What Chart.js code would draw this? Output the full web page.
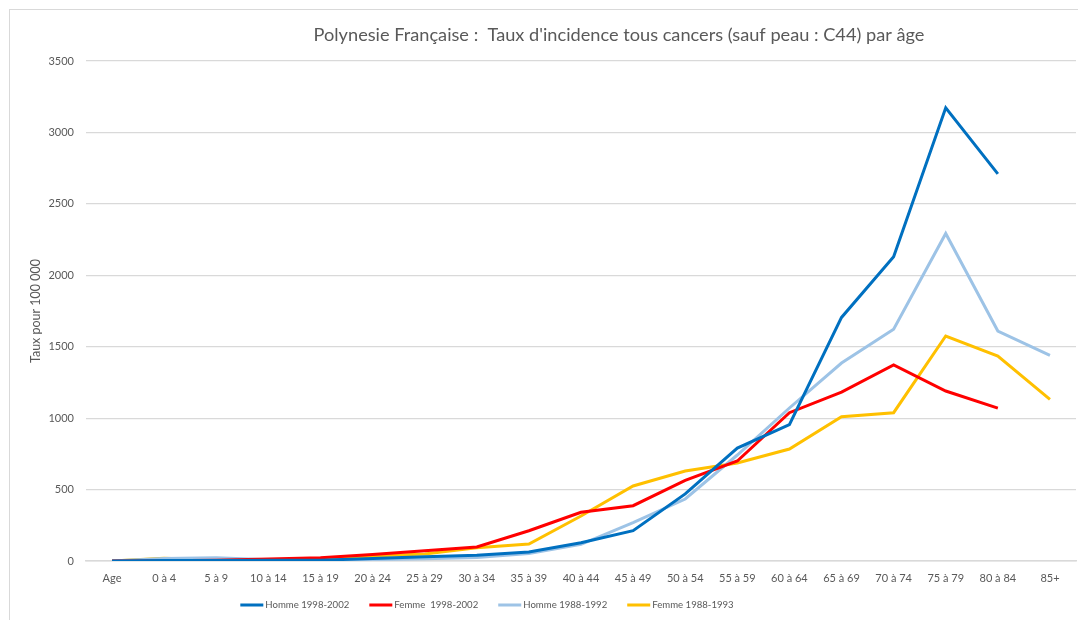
<!DOCTYPE html>
<html>
<head>
<meta charset="utf-8">
<script src="https://cdn.jsdelivr.net/npm/chart.js@4.4.1/dist/chart.umd.min.js"></script>
<style>
  html, body { margin: 0; padding: 0; background: #fff; }
  #wrap { position: relative; width: 1078px; height: 620px; }
  #frame { position: absolute; left: 9px; top: 9px; right: 0; bottom: 0;
           border-left: 1px solid #d9d9d9; border-top: 1px solid #d9d9d9; }
  canvas { position: absolute; left: 0; top: 0; }
</style>
</head>
<body>
<div id="wrap">
  <div id="frame"></div>
  <canvas id="chart" width="1078" height="620"></canvas>
</div>
<script>
// age groups (first entry is the axis caption "Age", plotted at 0)
const ageGroups = ['Age', '0 à 4', '5 à 9', '10 à 14', '15 à 19', '20 à 24', '25 à 29', '30 à 34',
  '35 à 39', '40 à 44', '45 à 49', '50 à 54', '55 à 59', '60 à 64', '65 à 69', '70 à 74',
  '75 à 79', '80 à 84', '85+'];

// incidence per 100 000
const homme9802 = [0, 3, 3, 5, 5, 18, 30, 40, 63, 128, 212, 470, 790, 955, 1705, 2130, 3172, 2710, null];
const femme9802 = [0, 2, 5, 14, 22, 45, 72, 98, 212, 341, 387, 565, 700, 1038, 1182, 1372, 1190, 1070, null];
const homme8892 = [0, 18, 22, 8, 5, 10, 15, 25, 52, 117, 268, 434, 742, 1071, 1386, 1622, 2293, 1610, 1440];
const femme8893 = [0, 19, 7, 7, 7, 35, 49, 93, 119, 315, 525, 630, 686, 784, 1010, 1038, 1575, 1435, 1132];

const yTicks = [0, 500, 1000, 1500, 2000, 2500, 3000, 3500];

const chartTitle = "Polynesie Française :  Taux d'incidence tous cancers (sauf peau : C44) par âge";
const FONT = 'Lato, "Open Sans", sans-serif';
const GREY = '#595959';

function series(label, data, color) {
  return {
    label: label,
    data: data,
    borderColor: color,
    backgroundColor: color,
    borderWidth: 3,
    pointRadius: 0,
    tension: 0,
    spanGaps: false
  };
}

// title drawn by hand: in the original it is centred over the whole (cropped) Excel chart
const titlePlugin = {
  id: 'customTitle',
  afterDraw(chart) {
    const ctx = chart.ctx;
    ctx.save();
    ctx.font = '18.2px ' + FONT;
    ctx.fillStyle = GREY;
    ctx.textAlign = 'center';
    ctx.textBaseline = 'middle';
    ctx.fillText(chartTitle, 619, 35);
    ctx.restore();
  }
};

// Excel-style legend: short line sample glued to its text, row centred left of the canvas middle
const legendPlugin = {
  id: 'excelLegend',
  afterDraw(chart) {
    const ctx = chart.ctx;
    const sample = 23, gap = 2, itemGap = 20, centreX = 487, y = 605;
    ctx.save();
    ctx.font = '9.6px ' + FONT;
    ctx.textBaseline = 'middle';
    const items = chart.data.datasets.map(ds => ({
      text: ds.label, color: ds.borderColor, w: ctx.measureText(ds.label).width
    }));
    let total = items.reduce((s, it) => s + sample + gap + it.w, 0) + itemGap * (items.length - 1);
    let x = centreX - total / 2;
    items.forEach(it => {
      ctx.fillStyle = it.color;
      ctx.fillRect(x, y - 1.5, sample, 3);
      ctx.fillStyle = GREY;
      ctx.fillText(it.text, x + sample + gap, y);
      x += sample + gap + it.w + itemGap;
    });
    ctx.restore();
  }
};

const ctx = document.getElementById('chart').getContext('2d');
new Chart(ctx, {
  type: 'line',
  data: {
    labels: ageGroups,
    datasets: [
      series('Homme 1998-2002', homme9802, '#0070C0'),
      series('Femme  1998-2002', femme9802, '#FF0000'),
      series('Homme 1988-1992', homme8892, '#9DC3E6'),
      series('Femme 1988-1993', femme8893, '#FFC000')
    ]
  },
  options: {
    responsive: false,
    animation: false,
    layout: { padding: { left: 0, right: 2, top: 61, bottom: 33 } },
    plugins: {
      title: { display: false },
      tooltip: { enabled: false },
      legend: { display: false }
    },
    scales: {
      x: {
        offset: true,
        grid: { display: false, drawTicks: false },
        border: { color: '#d9d9d9', width: 1.5 },
        ticks: {
          color: GREY,
          font: { family: FONT, size: 11 },
          padding: 11,
          maxRotation: 0,
          autoSkip: false
        },
        afterFit(scale) { scale.height = 26; }
      },
      y: {
        min: 0,
        max: 3500,
        afterBuildTicks(scale) { scale.ticks = yTicks.map(v => ({ value: v })); },
        grid: { color: '#d9d9d9', lineWidth: 1.2, drawTicks: false },
        border: { display: false },
        ticks: {
          color: GREY,
          font: { family: FONT, size: 11 },
          padding: 12,
          callback: v => String(v)
        },
        title: {
          display: true,
          text: 'Taux pour 100 000',
          color: GREY,
          font: { family: FONT, size: 12.5 },
          padding: { top: 28, bottom: 0 }
        },
        afterFit(scale) { scale.width = 86; }
      }
    }
  },
  plugins: [titlePlugin, legendPlugin]
});
</script>
</body>
</html>
